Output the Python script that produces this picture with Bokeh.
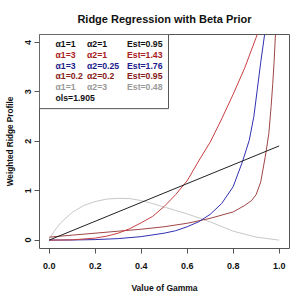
from bokeh.plotting import figure
from bokeh.models import Range1d, FixedTicker, Label, BoxAnnotation
from bokeh.embed import file_html
from bokeh.resources import INLINE

# ---- data ----
x_ols = [0.0, 1.0]
y_ols = [0.0, 1.905]

x_red = [0, 0.1, 0.2, 0.25, 0.3, 0.35, 0.4, 0.45, 0.5, 0.55, 0.6, 0.65, 0.7, 0.75, 0.8, 0.85, 0.9, 0.905]
y_red = [0, 0.005, 0.04, 0.08, 0.14, 0.23, 0.35, 0.48, 0.68, 0.92, 1.2, 1.6, 1.98, 2.45, 2.95, 3.48, 4.1, 4.17]

x_blue = [0, 0.1, 0.2, 0.3, 0.4, 0.5, 0.55, 0.6, 0.65, 0.7, 0.75, 0.8, 0.84, 0.87, 0.89, 0.905, 0.92, 0.937]
y_blue = [0, 0.002, 0.01, 0.03, 0.07, 0.14, 0.19, 0.27, 0.37, 0.52, 0.74, 1.08, 1.58, 2.02, 2.5, 3.05, 3.6, 4.17]

x_brown = [0, 0.1, 0.2, 0.3, 0.4, 0.5, 0.6, 0.7, 0.8, 0.85, 0.88, 0.9, 0.92, 0.94, 0.955, 0.965, 0.972, 0.978, 0.984]
y_brown = [0.06, 0.1, 0.14, 0.18, 0.22, 0.27, 0.34, 0.44, 0.57, 0.7, 0.8, 0.92, 1.18, 1.7, 2.15, 2.7, 3.15, 3.6, 4.17]

x_gray = [0, 0.025, 0.05, 0.1, 0.15, 0.2, 0.25, 0.3, 0.35, 0.4, 0.45, 0.5, 0.6, 0.7, 0.8, 0.9, 1.0]
y_gray = [0.02, 0.2, 0.35, 0.56, 0.7, 0.78, 0.83, 0.845, 0.84, 0.8, 0.74, 0.67, 0.53, 0.37, 0.18, 0.06, 0.0]

x_ticks = [0.0, 0.2, 0.4, 0.6, 0.8, 1.0]
x_tick_labels = ["0.0", "0.2", "0.4", "0.6", "0.8", "1.0"]
y_ticks = [0, 1, 2, 3, 4]
y_tick_labels = ["0", "1", "2", "3", "4"]

leg_a1 = ["\u03b11=1", "\u03b11=3", "\u03b11=3", "\u03b11=0.2", "\u03b11=1", "ols=1.905"]
leg_a2 = ["\u03b12=1", "\u03b12=1", "\u03b12=0.25", "\u03b12=0.2", "\u03b12=3"]
leg_est = ["Est=0.95", "Est=1.43", "Est=1.76", "Est=0.95", "Est=0.48"]
leg_colors = ["#111111", "#a82020", "#1c1c8c", "#862020", "#9a9a9a", "#111111"]

FONT = "Liberation Sans"
X0, X1 = -0.042, 1.045
Y0, Y1 = -0.17, 4.16

p = figure(width=292, height=298, output_backend="svg", toolbar_location=None,
           x_range=Range1d(X0, X1), y_range=Range1d(Y0, Y1),
           min_border_left=39, min_border_right=3, min_border_top=32, min_border_bottom=50,
           background_fill_color="white", border_fill_color="white")

p.title.text = "Ridge Regression with Beta Prior"
p.title.align = "center"
p.title.text_font = FONT
p.title.text_font_size = "11px"
p.title.text_font_style = "bold"
p.title.text_color = "#111111"
p.title.standoff = 20

p.xgrid.visible = False
p.ygrid.visible = False
p.outline_line_color = "#555555"
p.outline_line_width = 1

for ax in (p.xaxis[0], p.yaxis[0]):
    ax.axis_line_color = None
    ax.major_tick_line_color = "#555555"
    ax.major_tick_out = 5
    ax.major_tick_in = 0
    ax.minor_tick_line_color = None
    ax.major_label_text_font = FONT
    ax.major_label_text_font_size = "9px"
    ax.major_label_text_font_style = "bold"
    ax.major_label_text_color = "#111111"
    ax.axis_label_text_font = FONT
    ax.axis_label_text_font_size = "8.5px"
    ax.axis_label_text_font_style = "bold"
    ax.axis_label_text_color = "#111111"

p.xaxis.ticker = FixedTicker(ticks=x_ticks)
p.xaxis.major_label_overrides = dict(zip(x_ticks, x_tick_labels))
p.xaxis.axis_label = "Value of Gamma"
p.xaxis.major_label_standoff = 9
p.xaxis.axis_label_standoff = 11

p.yaxis.ticker = FixedTicker(ticks=y_ticks)
p.yaxis.major_label_overrides = dict(zip(y_ticks, y_tick_labels))
p.yaxis.major_label_orientation = "vertical"
p.yaxis.axis_label = "Weighted Ridge Profile"
p.yaxis.axis_label_text_font_size = "8.2px"
p.yaxis.major_label_standoff = 3
p.yaxis.axis_label_standoff = 8

# curves
p.line(x_gray, y_gray, line_color="#c8c8c8", line_width=1)
p.line(x_brown, y_brown, line_color="#a04545", line_width=1)
p.line(x_blue, y_blue, line_color="#3030b0", line_width=1)
p.line(x_red, y_red, line_color="#c84040", line_width=1)
p.line(x_ols, y_ols, line_color="#222222", line_width=1)

# legend frame (top-left corner of the plot)
leg_right = 0.519
leg_bottom = 2.66
p.add_layout(BoxAnnotation(left=X0, right=leg_right, top=Y1, bottom=leg_bottom,
                           fill_color="white", fill_alpha=1.0,
                           line_color="#555555", line_width=1, line_alpha=1.0))

row_y0 = 204.5
row_dy = 10.8
cols_x = [16, 47.5, 87.5]
for col, texts in enumerate([leg_a1, leg_a2, leg_est]):
    for i, txt in enumerate(texts):
        p.add_layout(Label(x=cols_x[col], y=row_y0 - i * row_dy, x_units="screen", y_units="screen",
                           text=txt, text_font=FONT, text_font_size="8.7px",
                           text_font_style="bold", text_color=leg_colors[i],
                           text_baseline="middle", text_align="left"))

open("out.html", "w").write(file_html(p, INLINE))
